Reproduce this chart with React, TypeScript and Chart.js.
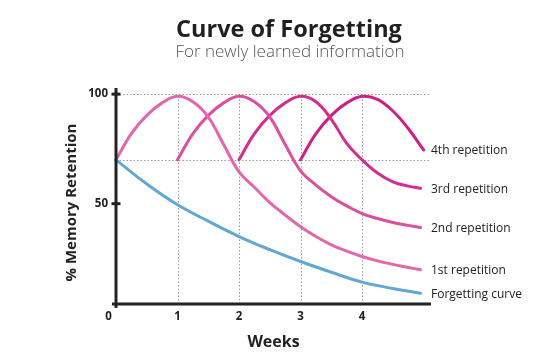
import React, { useEffect, useRef } from "react";
import { Chart, registerables } from "chart.js";

Chart.register(...registerables);

// ---- Data ----
const TITLE = "Curve of Forgetting";
const SUBTITLE = "For newly learned information";
const Y_TITLE = "% Memory Retention";
const X_TITLE = "Weeks";

const xTickValues = [0, 1, 2, 3, 4];
const yTickValues = [50, 100];
const gridLinesY = [100, 70];
const gridLinesX = [1, 2, 3, 4];

const forgettingWeeks = [0, 0.5, 1, 1.5, 2, 2.5, 3, 3.5, 4, 4.5, 4.95];
const forgettingValues = [70, 59, 49.5, 42, 35, 29, 23.6, 18.7, 14.2, 11.3, 9.1];

const rep1Weeks = [0, 0.25, 0.5, 0.75, 1, 1.25, 1.5, 1.75, 2, 2.25, 2.5, 2.75, 3, 3.25, 3.5, 3.75, 4, 4.25, 4.5, 4.75, 4.95];
const rep1Values = [70, 82, 90.3, 96, 99, 96.5, 89.5, 77, 64.5, 57.5, 50.5, 44.8, 39.5, 35, 31.2, 28.3, 25.9, 23.9, 22.3, 20.9, 19.8];

const rep2Weeks = [1, 1.25, 1.5, 1.75, 2, 2.25, 2.5, 2.75, 3, 3.25, 3.5, 3.75, 4, 4.25, 4.5, 4.75, 4.95];
const rep2Values = [70, 82, 90.3, 96, 99, 96.5, 89.5, 77, 65, 58.5, 53.2, 49, 45.5, 43.2, 41.4, 40.1, 39.1];

const rep3Weeks = [2, 2.25, 2.5, 2.75, 3, 3.25, 3.5, 3.75, 4, 4.25, 4.5, 4.75, 4.95];
const rep3Values = [70, 82, 90.3, 96, 99, 96.5, 88.5, 77.5, 70, 64, 60, 58, 57];

const rep4Weeks = [3, 3.25, 3.5, 3.75, 4, 4.25, 4.5, 4.75, 5];
const rep4Values = [70, 82, 90.3, 96, 99, 97.6, 92.3, 84.3, 74.5];

const seriesLabels = ["Forgetting curve", "1st repetition", "2nd repetition", "3rd repetition", "4th repetition"];
const seriesWeeks = [forgettingWeeks, rep1Weeks, rep2Weeks, rep3Weeks, rep4Weeks];
const seriesValues = [forgettingValues, rep1Values, rep2Values, rep3Values, rep4Values];
const seriesColors = ["#62a8d6", "#e466ab", "#de4fa0", "#d52e91", "#d01e88"];

const FONT = "'Open Sans', 'DejaVu Sans', sans-serif";
const INK = "#222222";

const overlayPlugin = {
  id: "overlay",
  beforeDatasetsDraw(chart: any) {
    const { ctx, chartArea, scales } = chart;
    const x = scales.x;
    const y = scales.y;
    ctx.save();
    ctx.strokeStyle = "#9c9c9c";
    ctx.lineWidth = 1;
    ctx.setLineDash([1.5, 2]);
    const x0 = x.getPixelForValue(0);
    for (const v of gridLinesY) {
      const py = Math.round(y.getPixelForValue(v)) + 0.5;
      ctx.beginPath();
      ctx.moveTo(x0, py);
      ctx.lineTo(chartArea.right, py);
      ctx.stroke();
    }
    const yTop = y.getPixelForValue(100);
    for (const v of gridLinesX) {
      const px = Math.round(x.getPixelForValue(v)) + 0.5;
      ctx.beginPath();
      ctx.moveTo(px, chartArea.bottom);
      ctx.lineTo(px, yTop);
      ctx.stroke();
    }
    ctx.restore();
  },
  afterDatasetsDraw(chart: any) {
    const { ctx, chartArea, scales } = chart;
    const x = scales.x;
    const y = scales.y;
    const x0 = x.getPixelForValue(0);
    ctx.save();
    // axes
    ctx.strokeStyle = INK;
    ctx.lineWidth = 3;
    ctx.lineCap = "butt";
    ctx.beginPath();
    ctx.moveTo(x0, chartArea.top);
    ctx.lineTo(x0, chartArea.bottom + 4);
    ctx.stroke();
    ctx.beginPath();
    ctx.moveTo(x0 - 4, chartArea.bottom);
    ctx.lineTo(chartArea.right, chartArea.bottom);
    ctx.stroke();
    // tick crosses
    for (const t of y.ticks) {
      const py = y.getPixelForValue(t.value);
      ctx.beginPath();
      ctx.moveTo(x0 - 4.5, py);
      ctx.lineTo(x0 + 4.5, py);
      ctx.stroke();
    }
    // end labels
    ctx.fillStyle = INK;
    ctx.font = `12px ${FONT}`;
    ctx.textAlign = "left";
    ctx.textBaseline = "middle";
    chart.data.datasets.forEach((ds: any, i: number) => {
      const last = ds.data[ds.data.length - 1];
      ctx.fillText(seriesLabels[i], chartArea.right, y.getPixelForValue(last.y) + 1);
    });
    // titles
    ctx.textAlign = "center";
    ctx.textBaseline = "alphabetic";
    ctx.fillStyle = "#231f20";
    ctx.font = `bold 23.5px ${FONT}`;
    ctx.fillText(TITLE, 289, 37);
    ctx.fillStyle = "#555555";
    ctx.font = `300 17px ${FONT}`;
    ctx.fillText(SUBTITLE, 290, 57);
    // y title
    ctx.save();
    ctx.translate(72, 202.5);
    ctx.rotate(-Math.PI / 2);
    ctx.fillStyle = INK;
    ctx.font = `bold 15px ${FONT}`;
    ctx.textBaseline = "middle";
    ctx.fillText(Y_TITLE, 0, 0);
    ctx.restore();
    ctx.restore();
  },
};

export default function App() {
  const canvasRef = useRef<HTMLCanvasElement | null>(null);

  useEffect(() => {
    document.body.style.margin = "0";
    const canvas = canvasRef.current;
    if (!canvas) return;
    const datasets = seriesLabels.map((label, i) => ({
      label,
      data: seriesWeeks[i].map((w, j) => ({ x: w, y: seriesValues[i][j] })),
      borderColor: seriesColors[i],
      backgroundColor: seriesColors[i],
      borderWidth: 3,
      pointRadius: 0,
      fill: false,
      tension: 0.4,
      borderCapStyle: "round" as const,
      clip: false as any,
    }));
    const chart = new Chart(canvas, {
      type: "line",
      data: { datasets },
      plugins: [overlayPlugin],
      options: {
        animation: false,
        responsive: false,
        devicePixelRatio: 1,
        layout: { padding: { left: 0, right: 118, top: 88, bottom: 0 } },
        plugins: { legend: { display: false }, tooltip: { enabled: false }, title: { display: false } },
        scales: {
          x: {
            type: "linear",
            min: 0,
            max: 5.12,
            grid: { display: false, drawTicks: false },
            border: { display: false },
            afterBuildTicks: (s: any) => {
              s.ticks = xTickValues.map((v) => ({ value: v }));
            },
            afterFit: (s: any) => {
              s.height = 56;
            },
            ticks: {
              padding: 6,
              autoSkip: false,
              maxRotation: 0,
              color: INK,
              font: { family: FONT, weight: "bold", size: 11.5 },
              callback: (v: any) => (v === 0 ? "0     " : String(v)),
            },
            title: {
              display: true,
              text: X_TITLE,
              color: INK,
              font: { family: FONT, weight: "bold", size: 16 },
              padding: { top: 0, bottom: 8 },
            },
          },
          y: {
            type: "linear",
            min: 4.2,
            max: 102.8,
            grid: { display: false, drawTicks: false },
            border: { display: false },
            afterBuildTicks: (s: any) => {
              s.ticks = yTickValues.map((v) => ({ value: v }));
            },
            afterFit: (s: any) => {
              s.width = 116;
            },
            ticks: {
              padding: 8,
              color: INK,
              font: { family: FONT, weight: "bold", size: 11.5 },
            },
          },
        },
      },
    });
    return () => chart.destroy();
  }, []);

  return (
    <div style={{ width: 549, height: 360, background: "#ffffff" }}>
      <canvas ref={canvasRef} width={549} height={360} style={{ display: "block" }} />
    </div>
  );
}
